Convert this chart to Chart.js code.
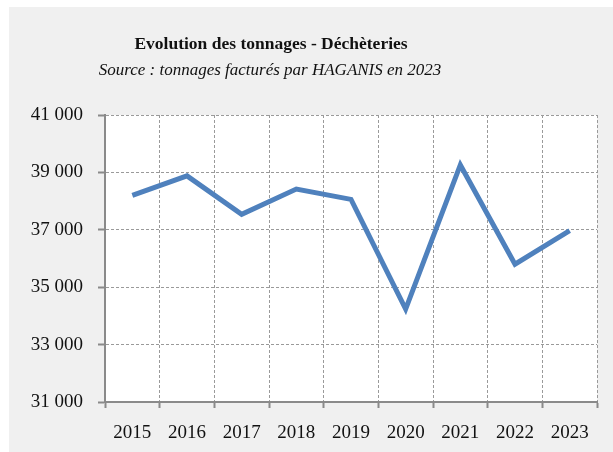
<!DOCTYPE html>
<html lang="fr">
<head>
    <meta charset="UTF-8">
    <title>Evolution des tonnages - Déchèteries</title>
    <script src="https://cdn.jsdelivr.net/npm/chart.js"></script>
    <style>
        body {
            margin: 0;
            background: #ffffff;
        }

        .box {
            position: absolute;
            left: 9px;
            top: 7px;
            width: 604px;
            height: 445px;
            background: #f0f0f0;
        }
    </style>
</head>
<body>
    <div class="box"><canvas id="tonnages"></canvas></div>

    <script>
        const years = ["2015", "2016", "2017", "2018", "2019", "2020", "2021", "2022", "2023"];
        const tonnages = [38200, 38880, 37540, 38420, 38060, 34240, 39260, 35800, 36970];
        const yTicks = [31000, 33000, 35000, 37000, 39000, 41000];

        const titleText = 'Evolution des tonnages - Déchèteries';
        const subtitleText = 'Source : tonnages facturés par HAGANIS en 2023';

        const serif = "'Liberation Serif', 'DejaVu Serif', serif";

        // fond blanc de la zone de tracé
        const plotBackground = {
            id: 'plotBackground',
            beforeDraw(chart) {
                const { ctx, chartArea: a } = chart;
                ctx.save();
                ctx.fillStyle = '#ffffff';
                ctx.fillRect(a.left, a.top, a.right - a.left, a.bottom - a.top);
                ctx.restore();
            }
        };

        // titres centrés comme dans l'original (un peu à gauche du centre)
        const titles = {
            id: 'titles',
            afterDraw(chart) {
                const c = chart.ctx;
                c.save();
                c.fillStyle = '#111';
                c.textAlign = 'center';
                c.textBaseline = 'middle';
                c.font = 'bold 17.5px ' + serif;
                c.fillText(titleText, 262, 37);
                c.font = 'italic 17px ' + serif;
                c.fillText(subtitleText, 261, 64);
                c.restore();
            }
        };

        const ctx = document.getElementById('tonnages').getContext('2d');

        new Chart(ctx, {
            type: 'line',
            data: {
                labels: years,
                datasets: [{
                    label: 'Tonnages',
                    data: tonnages,
                    borderColor: '#4f81bd',
                    borderWidth: 5,
                    pointRadius: 0,
                    tension: 0,
                    fill: false
                }]
            },
            options: {
                responsive: true,
                maintainAspectRatio: false,
                animation: false,
                layout: { padding: { left: 0, right: 16, top: 108, bottom: 0 } },
                plugins: {
                    legend: { display: false },
                    tooltip: { enabled: false },
                    title: { display: false },
                    subtitle: { display: false }
                },
                scales: {
                    x: {
                        offset: true,
                        afterFit(scale) { scale.height = 50; },
                        grid: {
                            offset: true,
                            color: '#9a9a9a',
                            tickColor: '#8a8a8a',
                            tickLength: 6,
                            tickWidth: 2
                        },
                        border: { color: '#8a8a8a', width: 2, dash: [3, 2] },
                        ticks: {
                            color: '#111',
                            padding: 14,
                            maxRotation: 0,
                            font: { family: serif, size: 19 }
                        }
                    },
                    y: {
                        min: 31000,
                        max: 41000,
                        afterFit(scale) { scale.width = 96; },
                        afterBuildTicks(scale) {
                            scale.ticks = yTicks.map(v => ({ value: v }));
                        },
                        grid: {
                            color: '#9a9a9a',
                            tickColor: '#8a8a8a',
                            tickLength: 7,
                            tickWidth: 2
                        },
                        border: { color: '#8a8a8a', width: 2, dash: [3, 2] },
                        ticks: {
                            color: '#111',
                            padding: 15,
                            font: { family: serif, size: 19 },
                            callback: v => v.toLocaleString('fr-FR').replace(/\s/g, ' ')
                        }
                    }
                }
            },
            plugins: [plotBackground, titles]
        });
    </script>
</body>
</html>
